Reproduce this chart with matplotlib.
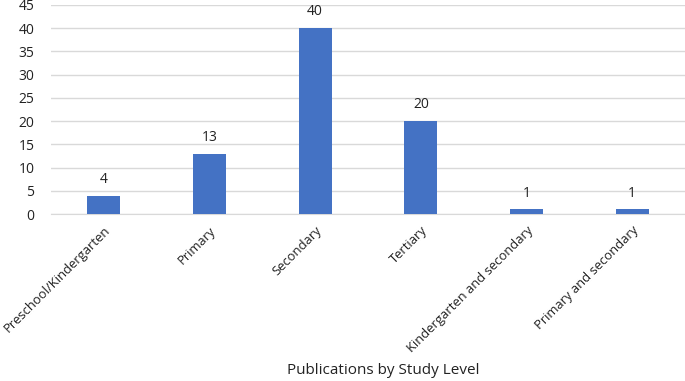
import matplotlib
matplotlib.use('Agg')
import matplotlib.pyplot as plt

plt.rcParams['font.family'] = ['Open Sans', 'DejaVu Sans']

levels = ['Preschool/Kindergarten', 'Primary', 'Secondary', 'Tertiary',
          'Kindergarten and secondary', 'Primary and secondary']
counts = [4, 13, 40, 20, 1, 1]
yticks = list(range(0, 50, 5))

fig = plt.figure(figsize=(6.85, 3.81), dpi=100)
ax = fig.add_axes([0.0745, 0.438, 0.9255, 0.549])

x = range(len(levels))
bars = ax.bar(x, counts, width=0.31, color='#4472C4', zorder=3)
for xi, v in zip(x, counts):
    ax.text(xi, v + 1.9, str(v), ha='center', va='bottom', fontsize=10, color='#222222')

ax.set_xlim(-0.5, len(levels) - 0.5)
ax.set_ylim(0, 45)
ax.set_yticks(yticks)
ax.set_xticks(list(x))
ax.set_xticklabels(levels, rotation=45, ha='right', rotation_mode='anchor', fontsize=9.4, color='#222222')
ax.tick_params(axis='both', length=0, labelcolor='#222222')
ax.tick_params(axis='y', labelsize=10, pad=12)
ax.tick_params(axis='x', pad=7)
ax.grid(axis='y', color='#d9d9d9', linewidth=1, zorder=0)
for s in ['top', 'right', 'left']:
    ax.spines[s].set_visible(False)
ax.spines['bottom'].set_color('#d9d9d9')

fig.text(0.56, 0.028, 'Publications by Study Level', ha='center', va='center', fontsize=11, color='#222222')

fig.savefig('out.png', dpi=100)
